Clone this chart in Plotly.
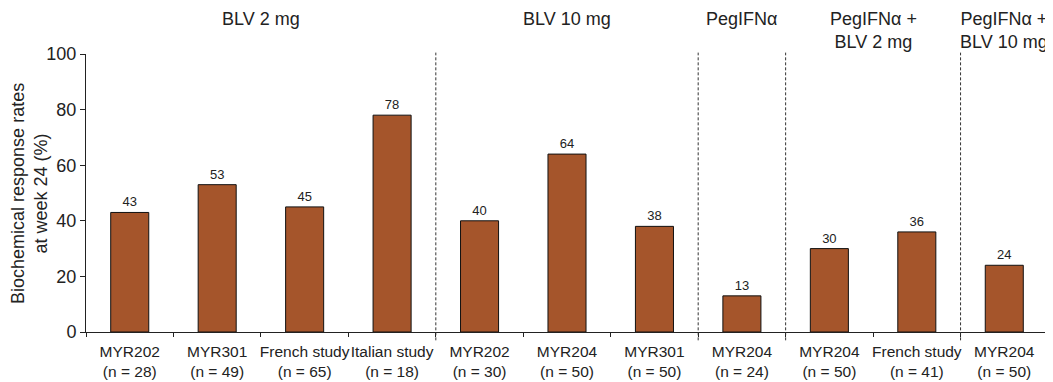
import plotly.graph_objects as go

studies = ["MYR202", "MYR301", "French study", "Italian study", "MYR202", "MYR204",
           "MYR301", "MYR204", "MYR204", "French study", "MYR204"]
n_patients = [28, 49, 65, 18, 30, 50, 50, 24, 50, 41, 50]
response_rates = [43, 53, 45, 78, 40, 64, 38, 13, 30, 36, 24]
group_names = ["BLV 2 mg", "BLV 10 mg", "PegIFNα", "PegIFNα +<br>BLV 2 mg", "PegIFNα +<br>BLV 10 mg"]
group_sizes = [4, 3, 1, 2, 1]

FONT = "Liberation Sans, Arial, sans-serif"
BAR_COLOR = "#A5552B"
TXT = "#222222"

cat_ids = [f"c{i}" for i in range(len(studies))]
tick_text = [f"{s}<br>(n = {n})" for s, n in zip(studies, n_patients)]

fig = go.Figure()
fig.add_trace(go.Bar(
    x=cat_ids, y=response_rates,
    marker=dict(color=BAR_COLOR, line=dict(color="#111111", width=1)),
    text=[str(v) for v in response_rates], textposition="outside",
    textfont=dict(size=13, color=TXT, family=FONT),
    cliponaxis=False, showlegend=False,
))

shapes = []
annotations = []
start = 0
for gi, (name, size) in enumerate(zip(group_names, group_sizes)):
    center = start + (size - 1) / 2
    annotations.append(dict(
        x=center, xref="x", y=1.17, yref="paper", yanchor="top", xanchor="center",
        text=name, showarrow=False, font=dict(size=18, color=TXT, family=FONT),
    ))
    end = start + size
    if gi < len(group_sizes) - 1:
        shapes.append(dict(
            type="line", xref="x", yref="paper", x0=end - 0.5, x1=end - 0.5,
            y0=-0.03, y1=1.005, line=dict(color="#333333", width=1, dash="3px,2px"),
        ))
    start = end

annotations.append(dict(
    x=-0.0593, xref="paper", y=0.5, yref="paper", xanchor="center", yanchor="middle",
    text="Biochemical response rates<br>at week 24 (%)", textangle=-90, showarrow=False,
    font=dict(size=18, color=TXT, family=FONT),
))

fig.update_layout(
    width=1045, height=374,
    margin=dict(l=78, r=5, t=46, b=50),
    plot_bgcolor="white", paper_bgcolor="white",
    font=dict(family=FONT, color=TXT),
    bargap=0.565,
    shapes=shapes, annotations=annotations,
    xaxis=dict(
        type="category", tickmode="array", tickvals=cat_ids, ticktext=tick_text,
        tickson="boundaries", ticks="outside", ticklen=4, tickcolor=TXT, tickangle=0,
        showline=True, linecolor=TXT, linewidth=1, automargin=False,
        ticklabelstandoff=5,
        tickfont=dict(size=15.5, family=FONT, color=TXT),
        showgrid=False, range=[-0.5, len(studies) - 0.5],
    ),
    yaxis=dict(
        range=[0, 100], dtick=20, ticks="outside", ticklen=5, tickcolor=TXT,
        showline=True, linecolor=TXT, linewidth=1, showgrid=False, zeroline=False,
        automargin=False,
        tickfont=dict(size=18, family=FONT, color=TXT),
    ),
)

fig.write_html("out.html")
